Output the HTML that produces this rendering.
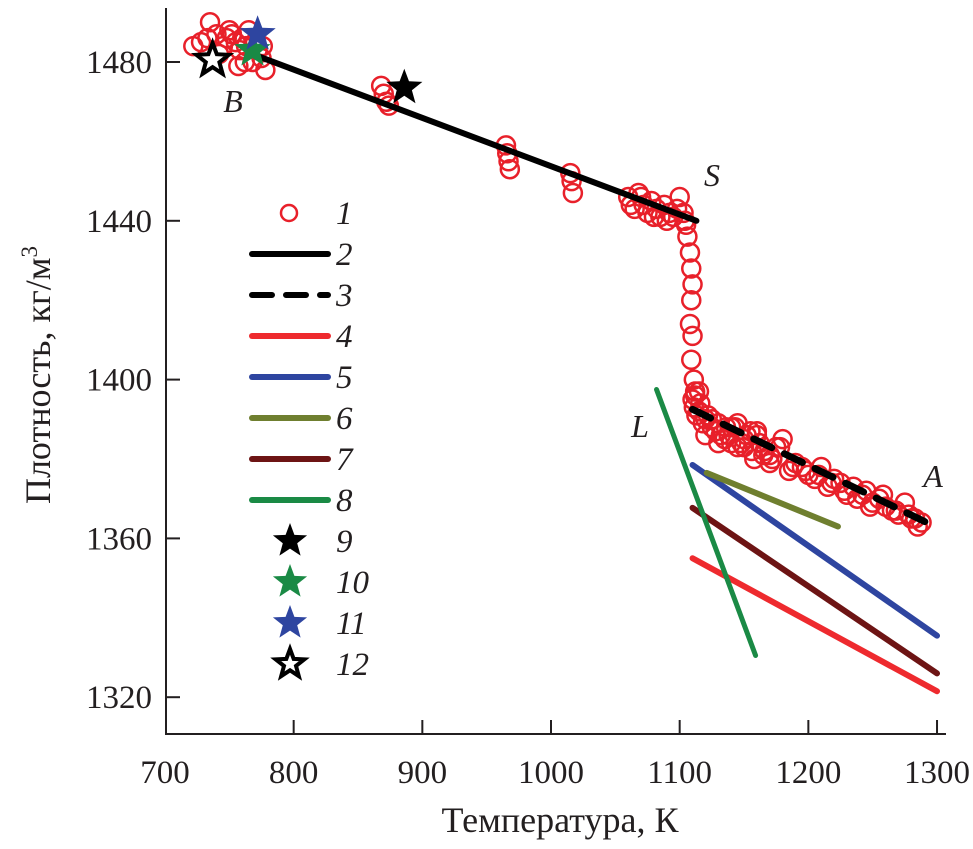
<!DOCTYPE html>
<html><head><meta charset="utf-8"><style>
html,body{margin:0;padding:0;background:#fff;}
svg text{font-family:"Liberation Serif",serif;fill:#231f20;}
</style></head><body>
<svg id="chart" width="973" height="844" viewBox="0 0 973 844" xmlns="http://www.w3.org/2000/svg">
<g id="axes"></g><g id="marks"></g><g id="legend"></g>
<text x="233" y="112" font-size="32" font-style="italic" text-anchor="middle">B</text>
<text x="712" y="186" font-size="32" font-style="italic" text-anchor="middle">S</text>
<text x="640" y="437" font-size="32" font-style="italic" text-anchor="middle">L</text>
<text x="933" y="487" font-size="32" font-style="italic" text-anchor="middle">A</text>
<text x="560" y="832" font-size="36" text-anchor="middle">Температура, К</text>
<text transform="translate(50,375) rotate(-90)" font-size="36" text-anchor="middle">Плотность, кг/м<tspan font-size="23" dy="-13">3</tspan></text>
</svg>
<script>
const xTicks=[700,800,900,1000,1100,1200,1300];
const yTicks=[1320,1360,1400,1440,1480];
const expT=[722,728,735,740,745,748,752,755,758,760,763,765,768,772,775,778,742,750,757,770,733,762,776,868,870,872,874,965,966,967,968,1015,1016,1017,1060,1065,1068,1072,1075,1078,1082,1085,1088,1092,1095,1100,1103,1105,1062,1070,1080,1090,1098,1104,1106,1108,1109,1110,1109,1108,1110,1109,1111,1112,1110,1111,1113,1115,1118,1120,1125,1128,1132,1136,1140,1145,1150,1152,1158,1162,1166,1170,1175,1180,1185,1190,1195,1200,1205,1210,1215,1220,1225,1230,1238,1245,1250,1255,1260,1265,1270,1275,1280,1285,1288,1125,1140,1155,1170,1135,1150,1112,1116,1122,1130,1138,1143,1148,1156,1160,1165,1172,1178,1188,1198,1208,1218,1228,1235,1242,1248,1258,1268,1278,1283,1115,1120,1130,1145,1160];
const expRho=[1484,1485,1490,1487,1484,1486,1487,1485,1483,1486,1484,1488,1480,1483,1481,1478,1482,1488,1479,1485,1486,1480,1484,1474,1472,1470,1469,1459,1457,1455,1453,1452,1450,1447,1446,1443,1447,1444,1442,1445,1443,1441,1444,1442,1441,1446,1442,1439,1444,1446,1441,1440,1443,1440,1436,1432,1428,1424,1420,1414,1411,1405,1400,1397,1395,1393,1391,1392,1389,1390,1388,1387,1386,1388,1384,1383,1385,1386,1380,1384,1382,1379,1383,1385,1377,1379,1378,1376,1375,1378,1373,1375,1374,1371,1370,1372,1369,1370,1368,1367,1366,1369,1365,1363,1364,1390,1388,1387,1381,1385,1383,1396,1394,1391,1389,1386,1388,1384,1382,1386,1381,1380,1383,1378,1377,1376,1374,1372,1373,1371,1368,1371,1367,1366,1365,1397,1386,1384,1389,1387];
const line2T=[772,1113], line2R=[1481.5,1440];
const line3T=[1110,1292], line3R=[1392.5,1364];
const line4T=[1110,1300], line4R=[1355,1321.5];
const line5T=[1110,1300], line5R=[1378.5,1335.5];
const line6T=[1121,1223], line6R=[1376.5,1363];
const line7T=[1110,1300], line7R=[1367.7,1326];
const line8T=[1082,1159], line8R=[1397.5,1330.5];
const starT=[886,768,772,737];
const starR=[1473.5,1483,1487,1480.5];
const starColors=["#000","#1a8a45","#2e45a0","#fff"];
const legendLabels=["1","2","3","4","5","6","7","8","9","10","11","12"];

const NS="http://www.w3.org/2000/svg";
const X=t=>165+(t-700)*1.2867;
const Y=r=>62+(1480-r)*3.97;
function mk(tag,attrs,parent){const e=document.createElementNS(NS,tag);for(const k in attrs)e.setAttribute(k,attrs[k]);parent.appendChild(e);return e;}
const axes=document.getElementById('axes'),marks=document.getElementById('marks'),legend=document.getElementById('legend');
let a=mk('line',{x1:166,y1:8,x2:166,y2:734,stroke:'#231f20','stroke-width':2},axes);


a=mk('line',{x1:165,y1:734,x2:946,y2:734,stroke:'#231f20','stroke-width':2},axes);


xTicks.forEach(t=>{
 if(t>700){const l=mk('line',{x1:X(t),y1:734,x2:X(t),y2:720,stroke:'#231f20','stroke-width':2},axes);
 
 }
 const tx=mk('text',{x:X(t),y:783,'font-size':33,'text-anchor':'middle'},axes);tx.textContent=t;
 
 
});
yTicks.forEach(r=>{
 const l=mk('line',{x1:166,y1:Y(r),x2:180,y2:Y(r),stroke:'#231f20','stroke-width':2},axes);
 
 
 const tx=mk('text',{x:152,y:Y(r)+11,'font-size':33,'text-anchor':'end'},axes);tx.textContent=r;
 
 
});
expT.forEach((t,i)=>{
 const c=mk('circle',{cx:X(t),cy:Y(expRho[i]),r:9,fill:'none',stroke:'#e8202a','stroke-width':2.5},marks);
 
 
});
const lines=[[line2T,line2R,'#000',6,null,'line-2'],[line3T,line3R,'#000',7,'20,14','line-3'],[line4T,line4R,'#ee2a2e',6,null,'line-4'],[line5T,line5R,'#2e45a0',6,null,'line-5'],[line6T,line6R,'#6f7f2f',6,null,'line-6'],[line7T,line7R,'#6d1414',6,null,'line-7'],[line8T,line8R,'#1a8a45',5,null,'line-8']];
lines.forEach(([T,R,col,w,d,name])=>{
 const attrs={x1:X(T[0]),y1:Y(R[0]),x2:X(T[1]),y2:Y(R[1]),stroke:col,'stroke-width':w,'stroke-linecap':'round'};
 if(d)attrs['stroke-dasharray']=d;
 const l=mk('line',attrs,marks);
 
 
});
function starPts(cx,cy,R){const p=[];for(let i=0;i<10;i++){const rr=i%2?R*0.42:R;const ang=-Math.PI/2+i*Math.PI/5;p.push((cx+rr*Math.cos(ang)).toFixed(1)+','+(cy+rr*Math.sin(ang)).toFixed(1));}return p.join(' ');}
const starOrder=[3,1,2,0];
starOrder.forEach(i=>{
 const open=i===3;
 const s=mk('polygon',{points:starPts(X(starT[i]),Y(starR[i]),open?17:19),fill:starColors[i],stroke:open?'#000':'none','stroke-width':open?4:0},marks);
 
 
});
legendLabels.forEach((lab,i)=>{
 const y=213+i*41;
 let m;
 if(i===0){m=mk('circle',{cx:289,cy:y,r:8,fill:'none',stroke:'#e8202a','stroke-width':2.5},legend);}
 else if(i<8){const c=lines[i-1];const at={x1:252,y1:y,x2:328,y2:y,stroke:c[2],'stroke-width':6,'stroke-linecap':'round'};if(c[4])at['stroke-dasharray']='20,14';m=mk('line',at,legend);}
 else{const k=i-8;m=mk('polygon',{points:starPts(290,y,k===3?15:18),fill:starColors[k],stroke:k===3?'#000':'none','stroke-width':k===3?4:0},legend);}
 
 
 const t=mk('text',{x:336,y:y+11,'font-size':33,'font-style':'italic'},legend);t.textContent=lab;
 
 
});
</script>
</body></html>
